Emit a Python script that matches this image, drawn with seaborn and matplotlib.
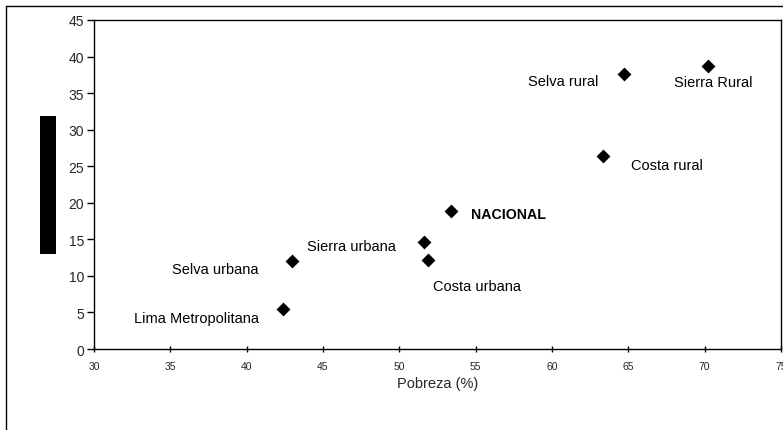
import matplotlib
matplotlib.use("Agg")
import matplotlib.pyplot as plt
import seaborn as sns
import pandas as pd
from matplotlib.patches import Rectangle
from matplotlib.lines import Line2D

regions = ["NACIONAL", "Sierra urbana", "Costa urbana", "Selva rural", "Sierra Rural",
           "Costa rural", "Selva urbana", "Lima Metropolitana"]
label_texts = ["NACIONAL", "Sierra urbana", "Costa urbana", "Selva rural", "Sierra Rural",
               "Costa rural", "Selva urbana", "Lima Metropolitana"]
pobreza = [53.4, 51.6, 51.85, 64.7, 70.2, 63.35, 42.95, 42.4]
yvals = [18.9, 14.7, 12.2, 37.6, 38.75, 26.4, 12.0, 5.5]
x_ticks = [30, 35, 40, 45, 50, 55, 60, 65, 70, 75]
y_ticks = [0, 5, 10, 15, 20, 25, 30, 35, 40, 45]

df = pd.DataFrame({"region": regions, "pobreza": pobreza, "y": yvals})

sns.set_theme(style="white")
plt.rcParams["font.family"] = ["Liberation Sans", "DejaVu Sans"]

fig = plt.figure(figsize=(7.83, 4.31), dpi=100)
ax = fig.add_axes([94 / 783, 1 - 350 / 431, (781 - 94) / 783, (350 - 21) / 431])

sns.scatterplot(data=df, x="pobreza", y="y", marker="D", s=50, color="black",
                edgecolor="black", linewidth=0, ax=ax, legend=False)

ax.set_xlim(30, 75)
ax.set_ylim(0, 45)
ax.set_xticks(x_ticks)
ax.set_yticks(y_ticks)
ax.tick_params(axis="x", labelsize=7.5, direction="inout", length=5, width=1, color="black", pad=6)
ax.tick_params(axis="y", labelsize=10, direction="out", length=5, width=1, color="black", pad=2)
ax.tick_params(bottom=True, left=True)
for sp in ax.spines.values():
    sp.set_color("black")
    sp.set_linewidth(1.0)
ax.set_xlabel("Pobreza (%)", fontsize=10.5, labelpad=4)
ax.set_ylabel("")

# label offsets in pixels: (dx, dy, ha)
offsets = {
    "NACIONAL": (20, -3, "left"),
    "Sierra urbana": (-28, -4, "right"),
    "Costa urbana": (5, -26, "left"),
    "Selva rural": (-25, -7, "right"),
    "Sierra Rural": (-34, -16, "left"),
    "Costa rural": (28, -9, "left"),
    "Selva urbana": (-33, -8, "right"),
    "Lima Metropolitana": (-24, -9, "right"),
}
for r, lab, xv, yv in zip(regions, label_texts, pobreza, yvals):
    dx, dy, ha = offsets[r]
    bold = r == "NACIONAL"
    ax.annotate(lab, (xv, yv), xytext=(dx, dy), textcoords="offset pixels",
                ha=ha, va="center", fontsize=10.2 if bold else 10.5,
                fontweight="bold" if bold else "normal", color="black")

# outer chart border
fig.add_artist(Line2D([6 / 783, 6 / 783], [0, 1 - 7 / 431], transform=fig.transFigure,
                      color="black", linewidth=1))
fig.add_artist(Line2D([6 / 783, 1], [1 - 7 / 431, 1 - 7 / 431], transform=fig.transFigure,
                      color="black", linewidth=1))
# redacted axis title block
fig.add_artist(Rectangle((40 / 783, 1 - 255 / 431), 16 / 783, 138 / 431,
                         transform=fig.transFigure, facecolor="black", edgecolor="none"))

fig.savefig("out.png", dpi=100)
